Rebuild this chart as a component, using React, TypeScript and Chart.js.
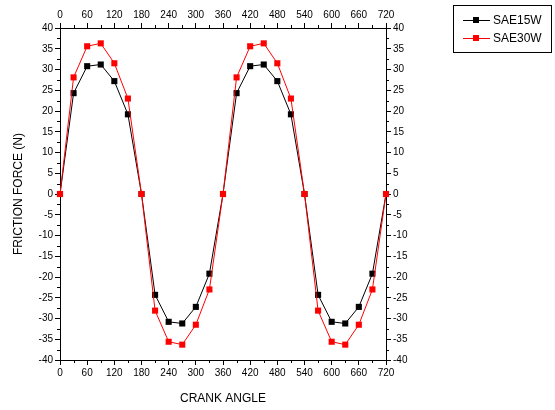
import React, { useEffect, useRef } from "react";
import { Chart, registerables } from "chart.js";

Chart.register(...registerables);

const angles = [0, 30, 60, 90, 120, 150, 180, 210, 240, 270, 300, 330, 360, 390, 420, 450, 480, 510, 540, 570, 600, 630, 660, 690, 720];
const sae15w = [0, 24.3, 30.8, 31.2, 27.2, 19.2, 0, -24.3, -30.8, -31.2, -27.2, -19.2, 0, 24.3, 30.8, 31.2, 27.2, 19.2, 0, -24.3, -30.8, -31.2, -27.2, -19.2, 0];
const sae30w = [0, 28.1, 35.6, 36.3, 31.5, 23.0, 0, -28.1, -35.6, -36.3, -31.5, -23.0, 0, 28.1, 35.6, 36.3, 31.5, 23.0, 0, -28.1, -35.6, -36.3, -31.5, -23.0, 0];
const seriesNames = ["SAE15W", "SAE30W"];
const seriesColors = ["#000000", "#ff0000"];
const xTitle = "CRANK ANGLE";
const yTitle = "FRICTION FORCE (N)";

const FONT = "'Liberation Sans', Arial, sans-serif";

const minorTicks = {
  id: "minorTicks",
  afterDraw(chart: any) {
    const ctx = chart.ctx;
    const { left, right, top, bottom } = chart.chartArea;
    ctx.save();
    ctx.strokeStyle = "#000";
    ctx.lineWidth = 1;
    const xs = chart.scales.x;
    const ys = chart.scales.y;
    ctx.beginPath();
    for (let v = 30; v < 720; v += 60) {
      const px = Math.round(xs.getPixelForValue(v)) + 0.5;
      ctx.moveTo(px, bottom);
      ctx.lineTo(px, bottom + 3);
      ctx.moveTo(px, top);
      ctx.lineTo(px, top - 3);
    }
    for (let v = -37.5; v < 40; v += 5) {
      const py = Math.round(ys.getPixelForValue(v)) + 0.5;
      ctx.moveTo(left, py);
      ctx.lineTo(left - 3, py);
      ctx.moveTo(right, py);
      ctx.lineTo(right + 3, py);
    }
    ctx.stroke();

    // legend box
    ctx.strokeStyle = "#000";
    ctx.strokeRect(453.5, 5.5, 98, 47);
    ctx.font = `12px ${FONT}`;
    ctx.textBaseline = "middle";
    ctx.textAlign = "left";
    const rows = [20.5, 38.5];
    for (let i = 0; i < 2; i++) {
      const ry = rows[i];
      ctx.strokeStyle = seriesColors[i];
      ctx.fillStyle = seriesColors[i];
      ctx.beginPath();
      ctx.moveTo(463, ry);
      ctx.lineTo(490, ry);
      ctx.stroke();
      ctx.fillRect(473, ry - 3.5, 6, 6);
      ctx.fillStyle = "#000";
      ctx.fillText(seriesNames[i], 493, ry + 0.5);
    }
    ctx.restore();
  },
};

export default function App() {
  const ref = useRef<HTMLCanvasElement>(null);
  useEffect(() => {
    if (!ref.current) return;
    const tickFont = { family: FONT, size: 10 };
    const titleFont = { family: FONT, size: 12 };
    const xCommon = {
      type: "linear" as const,
      min: 0,
      max: 720,
      ticks: { stepSize: 60, color: "#000", font: tickFont, padding: 2, maxRotation: 0, autoSkip: false },
      grid: { drawOnChartArea: false, tickLength: 5, tickColor: "#000" },
      border: { display: true, color: "#000", width: 1 },
    };
    const yCommon = {
      type: "linear" as const,
      min: -40,
      max: 40,
      ticks: { stepSize: 5, color: "#000", font: tickFont, padding: 2, autoSkip: false },
      grid: { drawOnChartArea: false, tickLength: 5, tickColor: "#000" },
      border: { display: true, color: "#000", width: 1 },
    };
    const chart = new Chart(ref.current, {
      type: "line",
      data: {
        datasets: [
          {
            label: seriesNames[0],
            data: angles.map((a, i) => ({ x: a, y: sae15w[i] })),
            borderColor: seriesColors[0],
            backgroundColor: seriesColors[0],
            borderWidth: 1,
            pointStyle: "rect",
            pointRadius: 4.3,
            pointBorderWidth: 0,
            clip: false,
            order: 1,
          },
          {
            label: seriesNames[1],
            data: angles.map((a, i) => ({ x: a, y: sae30w[i] })),
            borderColor: seriesColors[1],
            backgroundColor: seriesColors[1],
            borderWidth: 1,
            pointStyle: "rect",
            pointRadius: 4.3,
            pointBorderWidth: 0,
            clip: false,
            order: 0,
          },
        ],
      },
      options: {
        animation: false,
        responsive: false,
        layout: { padding: { left: 0, right: 139, top: 0, bottom: 0 } },
        plugins: { legend: { display: false }, tooltip: { enabled: false } },
        scales: {
          x: {
            ...xCommon,
            position: "bottom",
            title: { display: true, text: xTitle, color: "#000", font: titleFont, padding: { top: 0, bottom: 4 } },
            afterFit: (s: any) => { s.height = 50; },
          },
          x2: {
            ...xCommon,
            position: "top",
            afterFit: (s: any) => { s.height = 28; },
          },
          y: {
            ...yCommon,
            position: "left",
            title: { display: true, text: yTitle, color: "#000", font: titleFont, padding: { top: 11, bottom: 0 } },
            afterFit: (s: any) => { s.width = 60; },
          },
          y2: {
            ...yCommon,
            position: "right",
            afterFit: (s: any) => { s.width = 30; },
          },
        },
      } as any,
      plugins: [minorTicks],
    });
    return () => chart.destroy();
  }, []);
  return (
    <div style={{ position: "fixed", left: 0, top: 0, width: 555, height: 410, background: "#fff" }}>
      <canvas ref={ref} width={555} height={410} style={{ display: "block", width: 555, height: 410 }} />
    </div>
  );
}
